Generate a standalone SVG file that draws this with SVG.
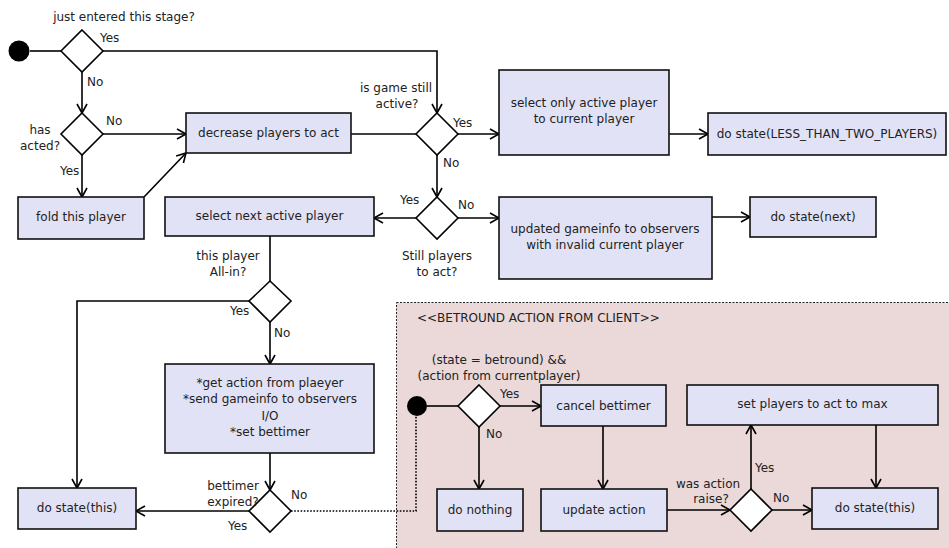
<svg xmlns="http://www.w3.org/2000/svg" width="949" height="548" viewBox="0 0 949 548">
<style>
text{font-family:"DejaVu Sans","Liberation Sans",sans-serif;font-size:12px;fill:#222}
.m{text-anchor:middle}
.box{fill:#e2e2f6;stroke:#111;stroke-width:1.6}
.dia{fill:#fff;stroke:#000;stroke-width:1.6}
.ln{fill:none;stroke:#000;stroke-width:1.6}
.arr{marker-end:url(#a)}
.dot{fill:none;stroke:#000;stroke-width:1.6;stroke-dasharray:1.6 1.6}
</style>
<defs>
<marker id="a" viewBox="-11 -7 13 14" refX="0" refY="0" markerWidth="13" markerHeight="14" markerUnits="userSpaceOnUse" orient="auto">
<path d="M-9,-5 L0,0 L-9,5" fill="none" stroke="#000" stroke-width="1.6"/>
</marker>
</defs>
<rect width="949" height="548" fill="#fff"/>
<g id="betround-region">
<rect x="396.5" y="302.5" width="600" height="300" fill="#ebd8d8" stroke="#222" stroke-width="1" stroke-dasharray="2 1.5"/>
<text x="417" y="322">&lt;&lt;BETROUND ACTION FROM CLIENT&gt;&gt;</text>
</g>
<g id="connectors">
<line class="ln" x1="30" y1="51" x2="61" y2="51"/>
<polyline class="ln arr" points="103,51 437,51 437,113"/>
<line class="ln arr" x1="82" y1="72" x2="82" y2="113"/>
<line class="ln arr" x1="103" y1="134" x2="186" y2="134"/>
<line class="ln arr" x1="82" y1="155" x2="82" y2="197"/>
<line class="ln arr" x1="144" y1="197" x2="186" y2="153"/>
<line class="ln" x1="351" y1="134" x2="416" y2="134"/>
<line class="ln arr" x1="458" y1="134" x2="499" y2="134"/>
<line class="ln arr" x1="669" y1="134" x2="708" y2="134"/>
<line class="ln arr" x1="437" y1="155" x2="437" y2="197"/>
<line class="ln arr" x1="416" y1="218" x2="374" y2="218"/>
<line class="ln arr" x1="458" y1="218" x2="499" y2="218"/>
<line class="ln arr" x1="712" y1="217" x2="750" y2="217"/>
<line class="ln" x1="270" y1="236" x2="270" y2="281"/>
<polyline class="ln arr" points="249,301 77,301 77,488"/>
<line class="ln arr" x1="270" y1="322" x2="270" y2="364"/>
<line class="ln arr" x1="270" y1="453" x2="270" y2="490"/>
<line class="ln arr" x1="249" y1="511" x2="136" y2="511"/>
<polyline class="dot" points="291,511 416,511 416,416"/>
<line class="ln" x1="427" y1="406" x2="458" y2="406"/>
<line class="ln arr" x1="500" y1="406" x2="541" y2="406"/>
<line class="ln arr" x1="479" y1="427" x2="479" y2="489"/>
<line class="ln arr" x1="603" y1="426" x2="603" y2="489"/>
<line class="ln arr" x1="667" y1="510" x2="730" y2="510"/>
<line class="ln arr" x1="751" y1="489" x2="751" y2="425"/>
<line class="ln arr" x1="772" y1="510" x2="812" y2="510"/>
<line class="ln arr" x1="876" y1="425" x2="876" y2="488"/>
<text x="100" y="42">Yes</text>
<text x="87" y="86">No</text>
<text x="106" y="125">No</text>
<text x="60" y="175">Yes</text>
<text x="453" y="127">Yes</text>
<text x="443" y="167">No</text>
<text x="400" y="204">Yes</text>
<text x="458" y="209">No</text>
<text x="230" y="315">Yes</text>
<text x="274" y="337">No</text>
<text x="291" y="499">No</text>
<text x="228" y="530">Yes</text>
<text x="500" y="398">Yes</text>
<text x="486" y="438">No</text>
<text x="755" y="472">Yes</text>
<text x="773" y="502">No</text>
</g>
<g id="start1"><circle cx="19" cy="51" r="10.5" fill="#000"/></g>
<g id="d-just-entered">
<polygon class="dia" points="82,30 103,51 82,72 61,51"/>
<text class="m" x="124" y="21">just entered this stage?</text>
</g>
<g id="d-has-acted">
<polygon class="dia" points="82,113 103,134 82,155 61,134"/>
<text class="m" x="40" y="134">has</text>
<text class="m" x="40" y="150">acted?</text>
</g>
<g id="n-decrease">
<rect class="box" x="186" y="113" width="165" height="40"/>
<text class="m" x="268.5" y="137">decrease players to act</text>
</g>
<g id="d-game-active">
<polygon class="dia" points="437,113 458,134 437,155 416,134"/>
<text class="m" x="396" y="92">is game still</text>
<text class="m" x="397" y="108">active?</text>
</g>
<g id="n-select-only">
<rect class="box" x="499" y="70" width="170" height="85"/>
<text class="m" x="584" y="107">select only active player</text>
<text class="m" x="584" y="123">to current player</text>
</g>
<g id="n-less-than-two">
<rect class="box" x="708" y="113" width="238" height="42"/>
<text class="m" x="827" y="138">do state(LESS_THAN_TWO_PLAYERS)</text>
</g>
<g id="n-fold">
<rect class="box" x="18" y="197" width="126" height="42"/>
<text class="m" x="81" y="221">fold this player</text>
</g>
<g id="n-select-next">
<rect class="box" x="165" y="197" width="209" height="39"/>
<text class="m" x="269.5" y="220">select next active player</text>
</g>
<g id="d-still-players">
<polygon class="dia" points="437,197 458,218 437,239 416,218"/>
<text class="m" x="437" y="260">Still players</text>
<text class="m" x="437" y="276">to act?</text>
</g>
<g id="n-updated-gameinfo">
<rect class="box" x="499" y="197" width="213" height="82"/>
<text class="m" x="605" y="233">updated gameinfo to observers</text>
<text class="m" x="605" y="249">with invalid current player</text>
</g>
<g id="n-state-next">
<rect class="box" x="750" y="197" width="126" height="40"/>
<text class="m" x="813" y="221">do state(next)</text>
</g>
<g id="d-all-in">
<polygon class="dia" points="270,281 291,301 270,322 249,301"/>
<text class="m" x="228" y="260">this player</text>
<text class="m" x="228" y="276">All-in?</text>
</g>
<g id="n-get-action">
<rect class="box" x="165" y="364" width="209" height="89"/>
<text class="m" x="270" y="387">*get action from plaeyer</text>
<text class="m" x="270" y="403">*send gameinfo to observers</text>
<text class="m" x="270" y="420">I/O</text>
<text class="m" x="270" y="436">*set bettimer</text>
</g>
<g id="d-bettimer">
<polygon class="dia" points="270,490 291,511 270,532 249,511"/>
<text class="m" x="233" y="490">bettimer</text>
<text class="m" x="233" y="506">expired?</text>
</g>
<g id="n-state-this-1">
<rect class="box" x="18" y="488" width="118" height="41"/>
<text class="m" x="77" y="512">do state(this)</text>
</g>
<g id="start2"><circle cx="417" cy="406" r="10" fill="#000"/></g>
<g id="d-betround">
<polygon class="dia" points="479,385 500,406 479,427 458,406"/>
<text class="m" x="499" y="364">(state = betround) &amp;&amp;</text>
<text class="m" x="499" y="380">(action from currentplayer)</text>
</g>
<g id="n-cancel">
<rect class="box" x="541" y="385" width="125" height="41"/>
<text class="m" x="603.5" y="410">cancel bettimer</text>
</g>
<g id="n-do-nothing">
<rect class="box" x="437" y="489" width="86" height="42"/>
<text class="m" x="480" y="514">do nothing</text>
</g>
<g id="n-update-action">
<rect class="box" x="541" y="489" width="126" height="42"/>
<text class="m" x="604" y="514">update action</text>
</g>
<g id="d-raise">
<polygon class="dia" points="751,489 772,510 751,531 730,510"/>
<text class="m" x="708" y="488">was action</text>
<text class="m" x="711" y="503">raise?</text>
</g>
<g id="n-set-max">
<rect class="box" x="687" y="385" width="251" height="40"/>
<text class="m" x="812.5" y="408">set players to act to max</text>
</g>
<g id="n-state-this-2">
<rect class="box" x="812" y="488" width="126" height="41"/>
<text class="m" x="875" y="512">do state(this)</text>
</g>
</svg>
